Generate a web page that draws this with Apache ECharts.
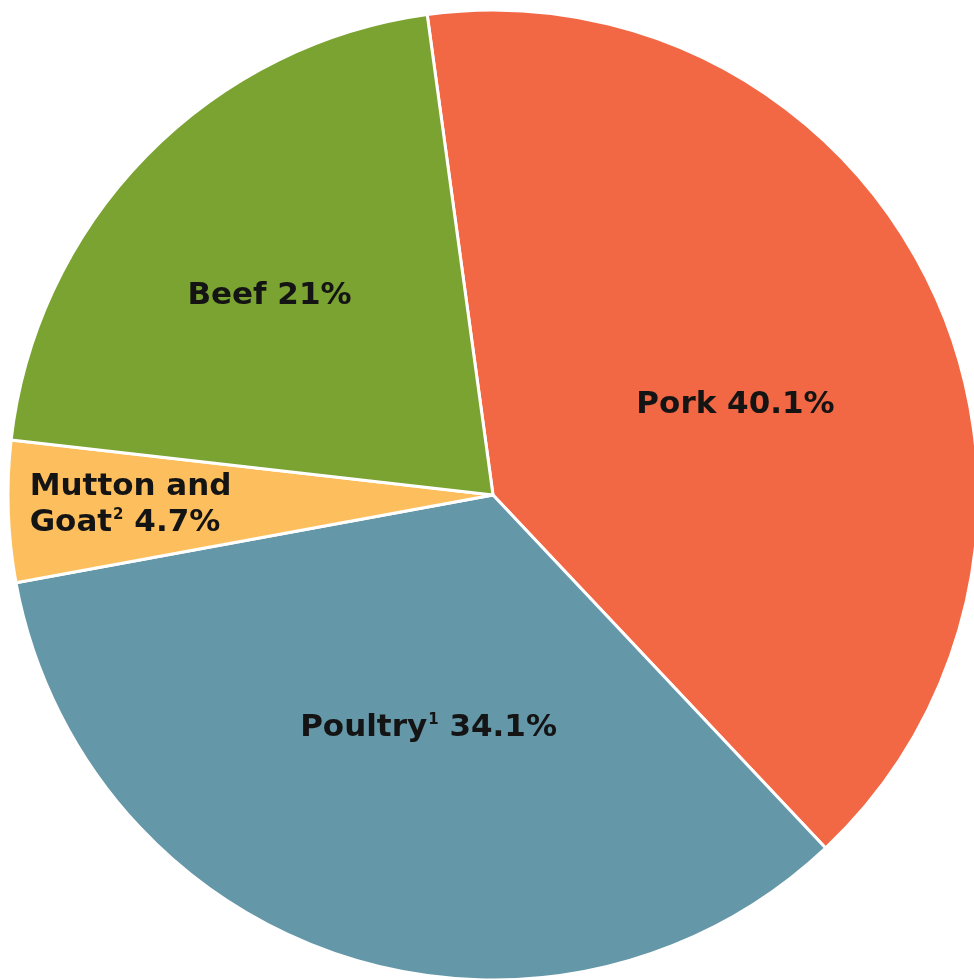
<!DOCTYPE html>
<html>
<head>
<meta charset="utf-8">
<title>Meat production by type</title>
<script src="https://cdn.jsdelivr.net/npm/echarts@6/dist/echarts.min.js"></script>
<style>
  html, body { margin: 0; padding: 0; background: #ffffff; }
  #chart { width: 974px; height: 980px; }
</style>
</head>
<body>
<div id="chart"></div>
<script>
// Share of meat production by type (%)
const categories = ['Pork', 'Poultry', 'Mutton and\nGoat', 'Beef'];
const footnotes = ['', '1', '2', ''];
const shares = [40.1, 34.1, 4.7, 21];
const colors = ['#F26844', '#6497A8', '#FDBF5E', '#7BA332'];

// Label nudges from the default inside position (px); the small slice is left-aligned
const labelShift = [[21, 16], [12, 0], [-218, 2], [-48, -27]];
const labelAlign = ['center', 'center', 'left', 'center'];

const FONT = '"DejaVu Sans", sans-serif';

const chart = echarts.init(document.getElementById('chart'));

chart.setOption({
  animation: false,
  backgroundColor: '#ffffff',
  series: [{
    type: 'pie',
    center: [493, 495],
    radius: [0, 485],
    startAngle: 97.8,
    clockwise: true,
    avoidLabelOverlap: false,
    itemStyle: { borderColor: '#ffffff', borderWidth: 3 },
    label: {
      show: true,
      position: 'inside',
      color: '#141414',
      fontFamily: FONT,
      fontWeight: 'bold',
      fontSize: 31,
      lineHeight: 36,
      formatter: function (p) {
        const i = p.dataIndex;
        const sup = footnotes[i] ? '{sup|' + footnotes[i] + '}' : '';
        const parts = categories[i].split('\n');
        const last = parts.pop();
        const lines = parts.map(s => '{main|' + s + '}');
        lines.push('{main|' + last + '}' + sup + '{main| ' + shares[i] + '%}');
        return lines.join('\n');
      },
      rich: {
        main: {
          color: '#141414', fontFamily: FONT, fontWeight: 'bold',
          fontSize: 31, lineHeight: 36
        },
        sup: {
          color: '#141414', fontFamily: FONT, fontWeight: 'bold',
          fontSize: 15, lineHeight: 36, verticalAlign: 'top', padding: [2, 0, 0, 1]
        }
      }
    },
    labelLine: { show: false },
    labelLayout: function (p) {
      const s = labelShift[p.dataIndex];
      return { dx: s[0], dy: s[1], align: labelAlign[p.dataIndex] };
    },
    emphasis: { disabled: true },
    data: categories.map((c, i) => ({
      name: c,
      value: shares[i],
      itemStyle: { color: colors[i] }
    }))
  }]
});
</script>
</body>
</html>
